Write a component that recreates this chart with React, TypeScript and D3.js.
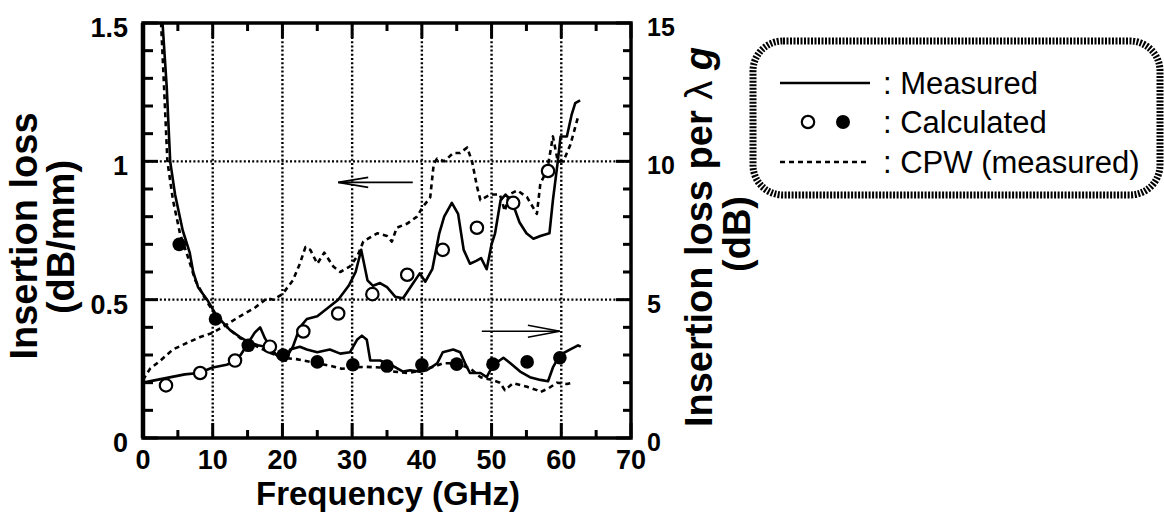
import React from 'react';
import * as d3 from 'd3';

// axis ticks
const freqTicks = [0, 10, 20, 30, 40, 50, 60, 70];
const lossTicks = [0, 0.5, 1, 1.5];
const lossLambdaTicks = [0, 5, 10, 15];

// solid line, left axis (dB/mm)
const measuredPerMm: [number, number][] = [
  [0, 0.2], [2, 0.21], [4, 0.22], [6, 0.23], [8, 0.235], [10, 0.255], [12, 0.265], [13, 0.275],
  [14, 0.3], [15, 0.34], [16, 0.38], [16.8, 0.4], [17.5, 0.36], [18.5, 0.32], [19.5, 0.29], [20.3, 0.28],
  [21.5, 0.33], [22.5, 0.4], [23.5, 0.43], [25, 0.44], [26.5, 0.47], [28, 0.5], [29.5, 0.55], [30.5, 0.6],
  [31.3, 0.68], [32.2, 0.57], [33, 0.55], [34, 0.56], [35, 0.545], [36.2, 0.51], [37.3, 0.505], [38.5, 0.55],
  [39.7, 0.595], [40.5, 0.565], [41.5, 0.61], [42.5, 0.74], [43.2, 0.8], [44.3, 0.85], [45.2, 0.81], [46, 0.68],
  [46.9, 0.63], [47.8, 0.64], [48.5, 0.65], [49.3, 0.61], [50, 0.7], [50.5, 0.74], [51.3, 0.86], [52, 0.88],
  [53, 0.85], [54, 0.78], [55, 0.74], [56, 0.72], [57, 0.73], [58.3, 0.74], [58.8, 0.86], [59.5, 1.0],
  [59.9, 1.09], [60.8, 1.09], [61.5, 1.17], [62, 1.21], [62.7, 1.22],
];

// dashed line, left axis (dB/mm)
const cpwPerMm: [number, number][] = [
  [0, 0.21], [1, 0.25], [2.5, 0.28], [4.3, 0.32], [6, 0.34], [8.2, 0.365], [10, 0.38], [12, 0.41],
  [13.9, 0.44], [16, 0.47], [17.8, 0.505], [18.7, 0.5], [20, 0.52], [21.5, 0.57], [22.5, 0.63], [23.3, 0.69],
  [24, 0.68], [25, 0.63], [26, 0.67], [27.3, 0.62], [28.3, 0.6], [29.7, 0.62], [30.8, 0.66], [31.6, 0.71],
  [33.6, 0.74], [35, 0.73], [35.7, 0.71], [36.4, 0.76], [37.9, 0.775], [39.3, 0.8], [40, 0.83], [41.2, 0.87],
  [41.7, 0.99], [42.2, 1.01], [43.2, 1.0], [44.5, 1.03], [45.5, 1.03], [46.5, 1.05], [47.2, 1.0], [47.9, 0.91],
  [48.4, 0.86], [49.8, 0.88], [51.2, 0.88], [51.9, 0.82], [52.5, 0.88], [53.7, 0.895], [55.1, 0.87], [56.5, 0.81],
  [57, 0.92], [58, 0.97], [58.8, 1.09], [59.5, 1.0], [60.3, 1.0], [61.3, 1.06], [62.4, 1.16],
];

// solid line, right axis (dB per wavelength)
const measuredPerLambda: [number, number][] = [
  [2.6, 16], [2.8, 15], [3.4, 12.7], [3.9, 10], [4.6, 8.8], [5.7, 7.5], [6.7, 6.7], [7.2, 6.0], [7.9, 5.45],
  [9.2, 5.0], [10.6, 4.4], [12.5, 3.9], [13.9, 3.65], [15.3, 3.45], [16.5, 3.35], [17.5, 3.3], [18.5, 3.1],
  [19.5, 2.95], [20.5, 2.8], [21.1, 3.2], [22.5, 3.3], [23.5, 3.2], [25, 3.1], [26.8, 3.2], [28.3, 3.05],
  [29.7, 3.1], [30.7, 3.55], [31.4, 3.7], [32.1, 3.55], [32.6, 2.8], [34, 2.8], [35.9, 2.6], [37.3, 2.4],
  [38.3, 2.45], [39.7, 2.4], [40.7, 2.45], [42.2, 2.7], [43, 3.1], [44.5, 3.2], [45.5, 3.1], [46.2, 2.7],
  [46.9, 2.35], [48.4, 2.35], [49.3, 2.2], [50.2, 2.63], [51.7, 2.9], [52.7, 2.7], [54.1, 2.4], [55.5, 2.2],
  [57, 2.1], [58.1, 2.05], [58.8, 2.55], [59.8, 3.0], [61.3, 3.2], [62.4, 3.35], [62.8, 3.3],
];

// dashed line, right axis (dB per wavelength)
const cpwPerLambda: [number, number][] = [
  [2.4, 16], [2.5, 15.5], [3.0, 12.8], [3.5, 10], [4.3, 8.6], [5.3, 7.4], [6.5, 6.5], [7.5, 5.7], [9, 5.0],
  [10.5, 4.4], [12.5, 3.9], [14, 3.6], [16, 3.35], [18, 3.1], [20, 2.9], [22, 2.85], [24, 2.75], [25, 2.7],
  [27, 2.6], [28.5, 2.5], [30, 2.55], [32, 2.57], [34, 2.55], [36, 2.4], [38, 2.35], [40, 2.45], [42, 2.6],
  [43, 2.7], [44.5, 2.7], [46, 2.6], [47, 2.5], [48.4, 2.2], [50, 2.1], [51.2, 2.0], [51.9, 1.73], [53.1, 1.98],
  [55.1, 1.85], [56.5, 1.73], [57, 1.66], [58.2, 1.8], [59.4, 2.0], [60.8, 1.95], [61.7, 2.0],
];

// open circles (dB/mm), filled circles (dB per wavelength)
const calcPerMm: [number, number][] = [
  [3.3, 0.19], [8.2, 0.235], [13.2, 0.28], [18.2, 0.33], [23, 0.385], [28, 0.45], [32.9, 0.52],
  [37.9, 0.59], [43, 0.68], [47.9, 0.76], [53.1, 0.85], [58.1, 0.965],
];
const calcPerLambda: [number, number][] = [
  [5.2, 7.0], [10.4, 4.3], [15.1, 3.35], [20.1, 3.0], [25, 2.75], [30.1, 2.65], [35, 2.6], [40, 2.65],
  [45, 2.67], [50.2, 2.67], [55.1, 2.75], [59.8, 2.9],
];

// arrows telling which axis a group belongs to
const arrowLeft = { from: [38.7, 0.924], to: [28, 0.924] };
const arrowRight = { from: [48.6, 3.86], to: [59.8, 3.86] };

const font = "'Liberation Sans', Arial, Helvetica, sans-serif";

export default function App() {
  const x = d3.scaleLinear().domain([0, 70]).range([143, 631]);
  const yL = d3.scaleLinear().domain([0, 1.5]).range([438, 23]);
  const yR = d3.scaleLinear().domain([0, 15]).range([438, 23]);

  const lineL = d3.line<[number, number]>().x(d => x(d[0])).y(d => yL(d[1]));
  const lineR = d3.line<[number, number]>().x(d => x(d[0])).y(d => yR(d[1]));

  const [x0, x1] = x.range();
  const [yb, yt] = yL.range();

  const minorX = d3.range(0, 71, 5);
  const minorL = d3.range(0, 1.51, 0.1);
  const minorR = d3.range(0, 15.1, 1);

  const lw = 2.6;

  const arrowHead = (tx: number, ty: number, dir: number, len: number, half: number) =>
    `M${tx - dir * len},${ty - half} L${tx},${ty} L${tx - dir * len},${ty + half}`;

  const aL = { x1: x(arrowLeft.from[0]), x2: x(arrowLeft.to[0]), y: yL(arrowLeft.from[1]) };
  const aR = { x1: x(arrowRight.from[0]), x2: x(arrowRight.to[0]), y: yR(arrowRight.from[1]) };

  return (
    <svg width={1164} height={515} style={{ position: 'absolute', left: 0, top: 0, background: '#fff' }}
      fontFamily={font}>
      <defs>
        <clipPath id="plot">
          <rect x={x0} y={yt} width={x1 - x0} height={yb - yt} />
        </clipPath>
      </defs>

      {/* grid */}
      <g stroke="#000" strokeWidth={2.4} strokeDasharray="2 2.2">
        {freqTicks.filter(t => t > 0 && t < 70).map(t => (
          <line key={'gx' + t} x1={x(t)} x2={x(t)} y1={yb} y2={yt} />
        ))}
        {lossTicks.filter(t => t > 0 && t < 1.5).map(t => (
          <line key={'gy' + t} x1={x0} x2={x1} y1={yL(t)} y2={yL(t)} />
        ))}
      </g>

      {/* ticks */}
      <g stroke="#000" strokeWidth={3}>
        {minorX.map(t => {
          const len = t % 10 === 0 ? 15 : 8;
          return (
            <g key={'tx' + t}>
              <line x1={x(t)} x2={x(t)} y1={yb} y2={yb - len} />
              <line x1={x(t)} x2={x(t)} y1={yt} y2={yt + len} />
            </g>
          );
        })}
        {minorL.map((t, i) => (
          <line key={'tl' + i} x1={x0} x2={x0 + (i % 5 === 0 ? 15 : 10)} y1={yL(t)} y2={yL(t)} />
        ))}
        {minorR.map((t, i) => (
          <line key={'tr' + i} x1={x1} x2={x1 - (i % 5 === 0 ? 15 : 8)} y1={yR(t)} y2={yR(t)} />
        ))}
      </g>

      {/* frame */}
      <rect x={x0} y={yt} width={x1 - x0} height={yb - yt} fill="none" stroke="#000" strokeWidth={3.5} />
      <line x1={x0} x2={x0} y1={yt} y2={yb} stroke="#000" strokeWidth={4.5} />

      {/* curves */}
      <g clipPath="url(#plot)" fill="none" stroke="#000" strokeWidth={lw} strokeLinejoin="round">
        <path d={lineL(measuredPerMm) ?? ''} />
        <path d={lineR(measuredPerLambda) ?? ''} />
        <path d={lineL(cpwPerMm) ?? ''} strokeDasharray="5 4" />
        <path d={lineR(cpwPerLambda) ?? ''} strokeDasharray="5 4" />
      </g>

      {/* calculated points */}
      {calcPerMm.map((d, i) => (
        <circle key={'o' + i} cx={x(d[0])} cy={yL(d[1])} r={6.2} fill="#fff" stroke="#000" strokeWidth={2.2} />
      ))}
      {calcPerLambda.map((d, i) => (
        <circle key={'f' + i} cx={x(d[0])} cy={yR(d[1])} r={6.8} fill="#000" />
      ))}

      {/* arrows */}
      <g stroke="#000" strokeWidth={1.6} fill="none">
        <line x1={aL.x1} x2={aL.x2} y1={aL.y} y2={aL.y} />
        <path d={arrowHead(aL.x2, aL.y, -1, 30, 5)} />
        <line x1={aR.x1} x2={aR.x2} y1={aR.y} y2={aR.y} />
        <path d={arrowHead(aR.x2, aR.y, 1, 32, 6)} />
      </g>

      {/* tick labels */}
      <g fontSize={27} fontWeight="bold">
        {freqTicks.map(t => (
          <text key={'lx' + t} x={x(t)} y={469} textAnchor="middle">{t}</text>
        ))}
        {lossTicks.map(t => (
          <text key={'ll' + t} x={128} y={yL(t) + 14} textAnchor="end">{t}</text>
        ))}
      </g>
      <g fontSize={25} fontWeight="bold">
        {lossLambdaTicks.map(t => (
          <text key={'lr' + t} x={647} y={yR(t) + 13} textAnchor="start">{t}</text>
        ))}
      </g>

      {/* axis titles */}
      <text x={388} y={505} fontSize={33} fontWeight="bold" textAnchor="middle">Frequency (GHz)</text>
      <g fontSize={38} fontWeight="bold" textAnchor="middle">
        <text transform="translate(37,236) rotate(-90)">Insertion loss</text>
        <text transform="translate(74,237) rotate(-90)">(dB/mm)</text>
        <text transform="translate(712,237) rotate(-90)">
          Insertion loss per <tspan fontWeight="normal">λ</tspan> <tspan fontStyle="italic">g</tspan>
        </text>
        <text transform="translate(750,234) rotate(-90)">(dB)</text>
      </g>

      {/* legend */}
      <rect x={753} y={41} width={407} height={154} rx={30} ry={30} fill="none" stroke="#000"
        strokeWidth={7} strokeDasharray="2 1.5" />
      <g stroke="#000" strokeWidth={2.4}>
        <line x1={780} x2={870} y1={83} y2={83} />
        <line x1={780} x2={870} y1={162} y2={162} strokeDasharray="5 4" />
      </g>
      <circle cx={808} cy={122} r={6.2} fill="#fff" stroke="#000" strokeWidth={2.2} />
      <circle cx={843} cy={122} r={7} fill="#000" />
      <g fontSize={31}>
        <text x={883} y={94}>: Measured</text>
        <text x={883} y={133}>: Calculated</text>
        <text x={883} y={173}>: CPW (measured)</text>
      </g>
    </svg>
  );
}
